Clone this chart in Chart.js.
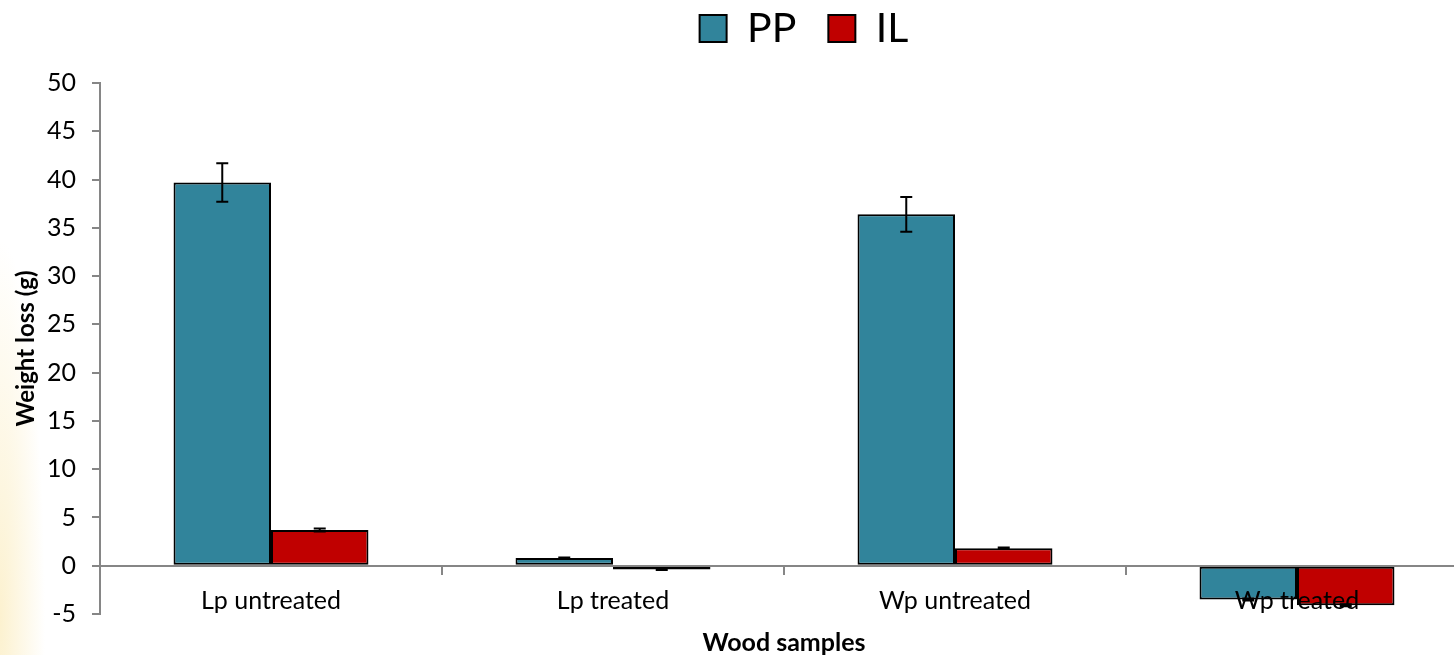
<!DOCTYPE html>
<html>
<head>
<meta charset="utf-8">
<script src="https://cdn.jsdelivr.net/npm/chart.js@4/dist/chart.umd.min.js"></script>
<style>
  html, body { margin: 0; padding: 0; overflow: hidden; }
  body {
    width: 1454px; height: 655px;
    background: radial-gradient(ellipse 45px 380px at 0px 620px, rgba(250, 232, 175, 0.6), rgba(255, 255, 255, 0) 100%), #fff;
  }
  #wrap { position: relative; width: 1470px; height: 655px; }
</style>
</head>
<body>
<div id="wrap"><canvas id="weightChart" width="1470" height="655"></canvas></div>
<script>
var categories = ['Lp untreated', 'Lp treated', 'Wp untreated', 'Wp treated'];
var ppValues = [39.7, 0.8, 36.4, -3.5];
var ppErrors = [2.0, 0.05, 1.8, 0.1];
var ilValues = [3.7, -0.4, 1.8, -4.1];
var ilErrors = [0.15, 0.05, 0.08, 0.1];
var yTicks = { min: -5, max: 50, step: 5 };

var axisGray = '#868686';
var fontFamily = 'Lato, "Noto Sans", sans-serif';

// draws the little I-shaped error bars on top of every bar
var errorBars = {
    id: 'errorBars',
    afterDatasetsDraw: function (chart) {
        var ctx = chart.ctx;
        var yScale = chart.scales.y;
        ctx.save();
        ctx.strokeStyle = '#000';
        ctx.lineWidth = 2;
        chart.data.datasets.forEach(function (ds, i) {
            var meta = chart.getDatasetMeta(i);
            meta.data.forEach(function (bar, j) {
                var v = ds.data[j];
                var e = ds.errors[j];
                var yTop = yScale.getPixelForValue(v + e);
                var yBot = yScale.getPixelForValue(v - e);
                ctx.beginPath();
                ctx.moveTo(bar.x, yTop);
                ctx.lineTo(bar.x, yBot);
                ctx.moveTo(bar.x - 6, yTop);
                ctx.lineTo(bar.x + 6, yTop);
                ctx.moveTo(bar.x - 6, yBot);
                ctx.lineTo(bar.x + 6, yBot);
                ctx.stroke();
            });
        });
        ctx.restore();
    }
};

// fixed legend height so the plot starts where the original does,
// then nudge the legend up/right to sit like the original one
var legendHeight = {
    id: 'legendHeight',
    beforeInit: function (chart) {
        var fit = chart.legend.fit;
        chart.legend.fit = function () {
            fit.bind(chart.legend)();
            this.height = 83;
        };
    },
    afterLayout: function (chart) {
        var lg = chart.legend;
        lg.top -= 24;
        lg.bottom -= 24;
        lg.left += 20;
        lg.right += 20;
    }
};

var ctx = document.getElementById('weightChart');

var myBarChart = new Chart(ctx, {
    type: 'bar',
    data: {
        labels: categories,
        datasets: [{
            label: 'PP',
            data: ppValues,
            errors: ppErrors,
            backgroundColor: '#31849B',
            borderColor: '#000',
            borderWidth: 2,
            borderSkipped: false
        }, {
            label: 'IL',
            data: ilValues,
            errors: ilErrors,
            backgroundColor: '#C00000',
            borderColor: '#000',
            borderWidth: 2,
            borderSkipped: false
        }]
    },
    plugins: [errorBars, legendHeight],
    options: {
        responsive: false,
        animation: false,
        devicePixelRatio: 1,
        categoryPercentage: 0.57,
        barPercentage: 1.0,
        layout: {
            padding: { left: 0, right: 2, top: 0, bottom: 41 }
        },
        plugins: {
            legend: {
                fullSize: false,
                labels: {
                    font: { family: fontFamily, size: 41 },
                    color: '#000',
                    boxWidth: 27,
                    boxHeight: 27,
                    padding: 32
                }
            },
            tooltip: { enabled: false }
        },
        scales: {
            x: {
                position: { y: 0 },
                grid: {
                    drawOnChartArea: false,
                    offset: true,
                    tickLength: 8,
                    color: axisGray,
                    lineWidth: 2
                },
                border: { color: axisGray, width: 2, z: 1 },
                ticks: {
                    z: 1,
                    color: '#000',
                    padding: 12,
                    font: { family: fontFamily, size: 25 }
                },
                title: {
                    display: true,
                    text: 'Wood samples',
                    color: '#000',
                    font: { family: fontFamily, size: 25, weight: 'bold' },
                    padding: { top: 0, bottom: 0 }
                }
            },
            y: {
                min: yTicks.min,
                max: yTicks.max,
                afterFit: function (scale) { scale.width = 100; },
                grid: {
                    drawOnChartArea: false,
                    tickLength: 8,
                    color: axisGray,
                    lineWidth: 2
                },
                border: { color: axisGray, width: 2 },
                ticks: {
                    stepSize: yTicks.step,
                    color: '#000',
                    padding: 16,
                    font: { family: fontFamily, size: 25 }
                },
                title: {
                    display: true,
                    text: 'Weight loss (g)',
                    color: '#000',
                    font: { family: fontFamily, size: 24, weight: 'bold' },
                    padding: { top: 12, bottom: 0 }
                }
            }
        }
    }
});
</script>
</body>
</html>
